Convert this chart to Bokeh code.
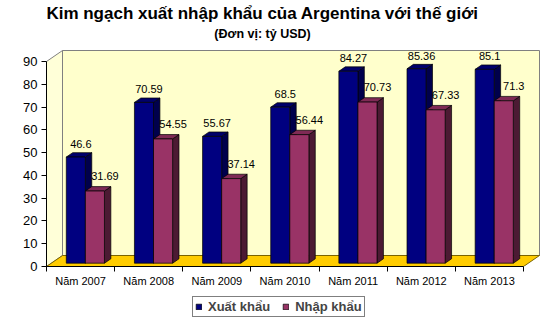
from bokeh.plotting import figure
from bokeh.models import (Legend, LegendItem, FixedTicker, ColumnDataSource, Range1d)
from bokeh.layouts import column
from bokeh.core.properties import value
from bokeh.embed import file_html
from bokeh.resources import INLINE

# ---- data ----
categories = ["Năm 2007", "Năm 2008", "Năm 2009", "Năm 2010", "Năm 2011", "Năm 2012", "Năm 2013"]
xuat_khau = [46.6, 70.59, 55.67, 68.5, 84.27, 85.36, 85.1]
nhap_khau = [31.69, 54.55, 37.14, 56.44, 70.73, 67.33, 71.3]
series_names = ["Xuất khẩu", "Nhập khẩu"]
y_ticks = [0, 10, 20, 30, 40, 50, 60, 70, 80, 90]
title_text = "Kim ngạch xuất nhập khẩu của Argentina với thế giới"
subtitle_text = "(Đơn vị: tỷ USD)"

# ---- style / geometry ----
W, H = 543, 322
H1 = 292                      # main chart height
H2 = H - H1                   # legend strip height
FL, FR, FT, FB = 46, 3, 0, 26
n = len(categories)
ymax = 90
frame_w = W - FL - FR
frame_h = H1 - FT - FB
px_per_x = 477.0 / n           # front floor edge length / categories
ddx = 16.0 / px_per_x          # depth in x data units
x_end = frame_w / px_per_x
px_per_y = 205.0 / ymax
ddy = 11.0 / px_per_y
y_end = frame_h / px_per_y

def y_of_px(py):
    return (frame_h - py) / px_per_y

def x_of_px(px):
    return (px - FL) / px_per_x

FONT = value("Liberation Sans")

p = figure(width=W, height=H1, output_backend="svg", toolbar_location=None,
           x_range=Range1d(0, x_end), y_range=Range1d(0, y_end),
           min_border_left=FL, min_border_right=FR, min_border_top=FT, min_border_bottom=FB,
           background_fill_color="white", border_fill_color="white")
p.outline_line_color = None
p.grid.visible = False

# titles (inside the frame, above the chart walls)
p.text(x=[x_of_px(262)], y=[y_of_px(13)], text=[title_text], text_font=FONT, text_font_style="bold",
       text_font_size="17px", text_align="center", text_baseline="middle", text_color="black")
p.text(x=[x_of_px(262)], y=[y_of_px(33)], text=[subtitle_text], text_font=FONT, text_font_style="bold",
       text_font_size="12.5px", text_align="center", text_baseline="middle", text_color="black")

# walls and floor
wall_line = "#808080"
p.patch([0, ddx, ddx, 0], [0, ddy, ymax + ddy, ymax], fill_color="#FFFFD8", line_color=wall_line, line_width=1)
p.patch([ddx, n + ddx, n + ddx, ddx], [ddy, ddy, ymax + ddy, ymax + ddy], fill_color="#FFFFCC",
        line_color=wall_line, line_width=1)
p.patch([0, n, n + ddx, ddx], [0, 0, ddy, ddy], fill_color="#FFCC00", line_color="#7a6400", line_width=1)

# bars
f0, f1 = 0.3, 0.7
bw = 0.28
gap = 0.22
colors = [
    dict(front="#000080", side="#00004C", top="#00006A", lbl_dx=5, lbl_dy=-13),
    dict(front="#993366", side="#4C1A33", top="#7F2A55", lbl_dx=10, lbl_dy=-15),
]
for s, vals in enumerate([xuat_khau, nhap_khau]):
    c = colors[s]
    x0 = [i + gap + s * bw + f0 * ddx for i in range(n)]
    x1 = [a + bw for a in x0]
    yb = f0 * ddy
    yt = [yb + v for v in vals]
    sdx = (f1 - f0) * ddx
    sdy = (f1 - f0) * ddy
    side_xs = [[b, b + sdx, b + sdx, b] for b in x1]
    side_ys = [[yb, yb + sdy, t + sdy, t] for t in yt]
    top_xs = [[a, b, b + sdx, a + sdx] for a, b in zip(x0, x1)]
    top_ys = [[t, t, t + sdy, t + sdy] for t in yt]
    p.patches(side_xs, side_ys, fill_color=c["side"], line_color="black", line_width=0.7)
    p.patches(top_xs, top_ys, fill_color=c["top"], line_color="black", line_width=0.7)
    src = ColumnDataSource(dict(left=x0, right=x1, bottom=[yb] * n, top=yt,
                                xc=[(a + b) / 2 for a, b in zip(x0, x1)],
                                lbl=[("%g" % v) for v in vals]))
    p.quad(left="left", right="right", bottom="bottom", top="top", source=src,
           fill_color=c["front"], line_color="black", line_width=0.7)
    p.text(x="xc", y="top", text="lbl", source=src, text_font=FONT, text_font_size="11px",
           text_color="black", text_align="center", text_baseline="middle",
           x_offset=c["lbl_dx"], y_offset=c["lbl_dy"])

# axes
p.yaxis.ticker = FixedTicker(ticks=y_ticks)
p.yaxis.bounds = (0, ymax)
p.yaxis.axis_line_color = "black"
p.yaxis.major_tick_out = 5
p.yaxis.major_tick_in = 0
p.yaxis.minor_tick_line_color = None
p.yaxis.major_label_text_font = "Liberation Sans"
p.yaxis.major_label_text_font_size = "13px"
p.yaxis.major_label_text_color = "black"
p.yaxis.major_label_standoff = 4

centers = [i + 0.5 for i in range(n)]
p.xaxis.ticker = FixedTicker(ticks=centers, minor_ticks=list(range(n + 1)))
p.xaxis.major_label_overrides = {c: lab for c, lab in zip(centers, categories)}
p.xaxis.bounds = (0, n)
p.xaxis.axis_line_color = "black"
p.xaxis.major_tick_out = 0
p.xaxis.major_tick_in = 0
p.xaxis.minor_tick_out = 5
p.xaxis.minor_tick_in = 0
p.xaxis.minor_tick_line_color = "black"
p.xaxis.major_label_text_font = "Liberation Sans"
p.xaxis.major_label_text_font_size = "11px"
p.xaxis.major_label_text_color = "black"
p.xaxis.major_label_standoff = 3

# legend strip (separate figure below the chart)
lg = figure(width=W, height=H2, output_backend="svg", toolbar_location=None,
            x_range=Range1d(0, 1), y_range=Range1d(0, 1),
            x_axis_location=None, y_axis_location=None,
            min_border_left=0, min_border_right=0, min_border_top=0, min_border_bottom=0,
            background_fill_color="white", border_fill_color="white")
lg.outline_line_color = None
lg.grid.visible = False
offscreen = dict(left=[5], right=[6], bottom=[5], top=[6])
r_blue = lg.quad(left="left", right="right", bottom="bottom", top="top", source=ColumnDataSource(offscreen),
                 fill_color=colors[0]["front"], line_color="black", line_width=0.7)
r_mag = lg.quad(left="left", right="right", bottom="bottom", top="top", source=ColumnDataSource(offscreen),
                fill_color=colors[1]["front"], line_color="black", line_width=0.7)
legend = Legend(items=[LegendItem(label=series_names[0], renderers=[r_blue]),
                       LegendItem(label=series_names[1], renderers=[r_mag])],
                orientation="horizontal", location=(146, H2 - 25),
                border_line_color="black", border_line_width=1, background_fill_color="white",
                background_fill_alpha=1, padding=2, margin=0, spacing=12,
                glyph_width=7, glyph_height=7, label_height=11, label_standoff=6,
                label_text_font="Liberation Sans", label_text_font_style="bold", label_text_font_size="13px")
lg.add_layout(legend, "center")

layout = column(p, lg, spacing=0)
open("out.html", "w").write(file_html(layout, INLINE))
